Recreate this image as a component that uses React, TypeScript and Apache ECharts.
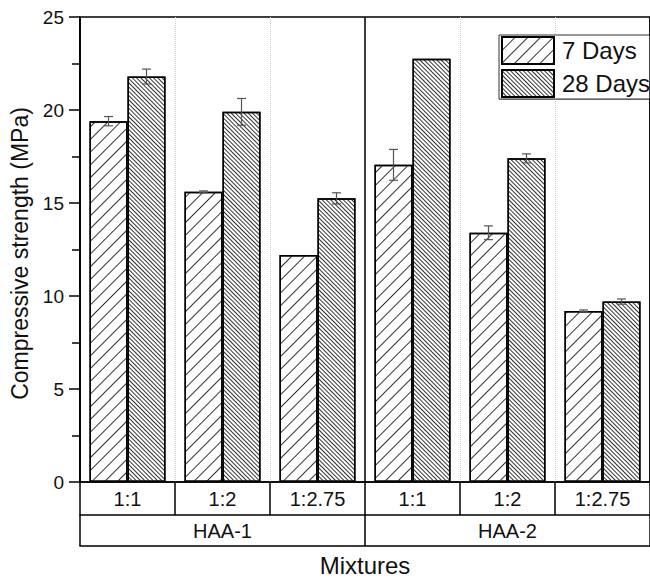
import React, { useEffect, useRef } from "react";
import * as echarts from "echarts";

const categories = ["1:1", "1:2", "1:2.75", "1:1", "1:2", "1:2.75"];
const groups = ["HAA-1", "HAA-2"];
const days7 = [19.4, 15.6, 12.2, 17.05, 13.4, 9.2];
const days7Err = [0.25, 0.05, 0, 0.83, 0.37, 0.05];
const days28 = [21.8, 19.9, 15.25, 22.75, 17.4, 9.7];
const days28Err = [0.4, 0.72, 0.3, 0, 0.24, 0.14];
const yMin = 0;
const yMax = 25;
const yInterval = 5;

const FONT = "Liberation Sans, Arial, sans-serif";

function errorSeries(values: number[], errs: number[], offset: number) {
  return {
    type: "custom",
    xAxisIndex: 0,
    yAxisIndex: 0,
    z: 5,
    silent: true,
    data: values.map((v, i) => [i, v, errs[i]]),
    encode: { x: 0, y: 1 },
    renderItem: (params: any, api: any) => {
      const idx = api.value(0);
      const val = api.value(1);
      const err = api.value(2);
      if (!err) return { type: "group", children: [] };
      const band = api.size([1, 0])[0];
      const c = api.coord([idx, val]);
      const x = c[0] + offset * band;
      const top = api.coord([idx, val + err])[1];
      const bot = api.coord([idx, val - err])[1];
      const hw = 4.5;
      const style = { stroke: "#555", lineWidth: 1.2 };
      return {
        type: "group",
        children: [
          { type: "line", shape: { x1: x, y1: top, x2: x, y2: bot }, style },
          { type: "line", shape: { x1: x - hw, y1: top, x2: x + hw, y2: top }, style },
          { type: "line", shape: { x1: x - hw, y1: bot, x2: x + hw, y2: bot }, style },
        ],
      };
    },
  };
}

export default function App() {
  const ref = useRef<HTMLDivElement>(null);
  useEffect(() => {
    document.body.style.margin = "0";
    const chart = echarts.init(ref.current!, null, { renderer: "svg" });
    const black = "#000";
    const option: any = {
      animation: false,
      backgroundColor: "#fff",
      textStyle: { fontFamily: FONT },
      grid: {
        left: 80,
        top: 17,
        width: 583,
        height: 469,
        show: true,
        borderColor: black,
        borderWidth: 1.5,
        backgroundColor: "transparent",
      },
      legend: {
        data: ["7 Days", "28 Days"],
        orient: "vertical",
        left: 499,
        top: 35,
        padding: [1, 40, 1, 2],
        itemWidth: 52,
        itemHeight: 27,
        itemGap: 4,
        icon: "rect",
        borderColor: "#333",
        borderWidth: 1,
        backgroundColor: "#fff",
        textStyle: { fontSize: 24, color: "#111", fontFamily: FONT, padding: [0, 0, 0, 3] },
      },
      graphic: [
        {
          type: "rect",
          left: 497,
          top: 33,
          z: 0,
          shape: { width: 200, height: 64 },
          style: { fill: "none", stroke: "#999", lineWidth: 1 },
          silent: true,
        },
      ],
      xAxis: [
        {
          type: "category",
          data: categories,
          position: "bottom",
          axisLine: { show: true, lineStyle: { color: black, width: 1.5 } },
          axisTick: { show: true, interval: 0, length: 33, lineStyle: { color: black, width: 1.5 } },
          axisLabel: { interval: 0, fontSize: 20, color: "#111", margin: 7, fontFamily: FONT },
          splitLine: { show: true, interval: 0, lineStyle: { color: "#ccc", type: "dotted", width: 1 } },
        },
        {
          type: "category",
          data: groups,
          position: "bottom",
          offset: 33,
          z: 5,
          axisLine: { show: true, lineStyle: { color: black, width: 1.5 } },
          axisTick: { show: true, interval: 0, length: 31, lineStyle: { color: black, width: 1.5 } },
          axisLabel: { interval: 0, fontSize: 20, color: "#111", margin: 6, fontFamily: FONT },
          splitLine: { show: true, interval: 0, lineStyle: { color: black, type: "solid", width: 1.5 } },
        },
        {
          type: "category",
          data: groups,
          position: "bottom",
          offset: 64,
          axisLine: { show: true, lineStyle: { color: black, width: 1.5 } },
          axisTick: { show: false },
          axisLabel: { show: false },
          splitLine: { show: false },
          name: "Mixtures",
          nameLocation: "middle",
          nameGap: 7,
          nameTextStyle: { fontSize: 24, color: "#111", fontFamily: FONT },
        },
      ],
      yAxis: {
        type: "value",
        min: yMin,
        max: yMax,
        interval: yInterval,
        axisLine: { show: true, lineStyle: { color: black, width: 1.5 } },
        axisTick: { show: true, length: 11, lineStyle: { color: black, width: 1.5 } },
        minorTick: { show: true, splitNumber: 2, length: 8, lineStyle: { color: black, width: 1.5 } },
        splitLine: { show: false },
        axisLabel: { fontSize: 19, color: "#111", margin: 16, fontFamily: FONT },
        name: "Compressive strength (MPa)",
        nameLocation: "middle",
        nameGap: 44,
        nameTextStyle: { fontSize: 23, color: "#111", fontFamily: FONT, padding: [0, 8, 0, 0] },
      },
      series: [
        {
          name: "7 Days",
          type: "bar",
          data: days7,
          barGap: "0%",
          barCategoryGap: "20%",
          itemStyle: {
            color: "#fff",
            borderColor: black,
            borderWidth: 1.5,
            decal: {
              symbol: "rect",
              symbolSize: 1,
              dashArrayX: [1, 0],
              dashArrayY: [1, 8],
              rotation: -Math.PI / 4,
              color: "#333",
              backgroundColor: "#fff",
            },
          },
        },
        {
          name: "28 Days",
          type: "bar",
          data: days28,
          barGap: "0%",
          barCategoryGap: "20%",
          itemStyle: {
            color: "#fff",
            borderColor: black,
            borderWidth: 1.5,
            decal: {
              symbol: "rect",
              symbolSize: 1,
              dashArrayX: [1, 0],
              dashArrayY: [1, 2],
              rotation: Math.PI / 4,
              color: "#333",
              backgroundColor: "#fff",
            },
          },
        },
        errorSeries(days7, days7Err, -0.2),
        errorSeries(days28, days28Err, 0.2),
      ],
    };
    chart.setOption(option);
    return () => chart.dispose();
  }, []);
  return <div ref={ref} style={{ width: 650, height: 582 }} />;
}
